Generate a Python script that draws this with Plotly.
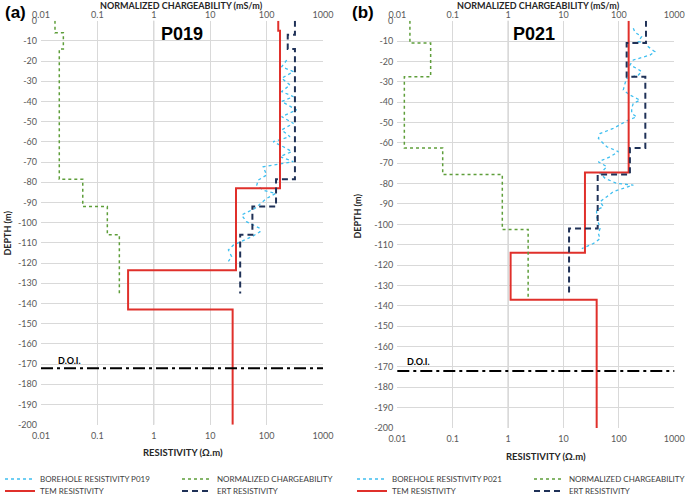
import plotly.graph_objects as go

# ---------------- data ----------------
res_ticks = [0.01, 0.1, 1, 10, 100, 1000]
res_tick_labels = ["0.01", "0.1", "1", "10", "100", "1000"]
depth_ticks = list(range(0, -201, -10))
depth_tick_labels = [str(d) for d in depth_ticks]
doi_depth = -172

# P019
p019_bh_depth = [-19.5, -22.8, -25.2, -28.5, -31.8, -35.1, -37.6, -40, -44.2, -47.5, -50.8, -54.1,
                 -57.4, -59.9, -62.4, -64.8, -67.3, -69.8, -72.3, -76.4, -78.9, -81.4, -83.9, -85.5,
                 -88, -90.5, -92.9, -96.2, -99.5, -102.8, -104.5, -106.9, -111, -113.5, -116.8, -119.2]
p019_bh_res = [227, 185, 298, 185, 260, 185, 298, 185, 341, 185, 298, 185,
               260, 131, 198, 279, 173, 298, 87, 100, 71, 67, 87, 145,
               100, 78, 62, 36, 44, 76, 76, 55, 26, 21, 24, 21]
p019_chg_bounds = [0, -6, -14, -78.5, -92, -106, -135]
p019_chg = [0.0177, 0.0249, 0.0211, 0.055, 0.15, 0.245]
p019_tem_bounds = [0, -5, -83, -123.5, -143, -200]
p019_tem = [161, 173, 28.7, 0.35, 25]
p019_ert_bounds = [0, -7, -14, -78.5, -92, -106, -135]
p019_ert = [318, 237, 318, 147, 56, 34]

# P021
p021_bh_depth = [-3.7, -5.7, -7.8, -10.3, -11.1, -12.8, -15.2, -16.9, -19.3, -21.8, -23.4, -25, -26.7,
                 -28.3, -30.8, -34, -36.5, -39, -40.6, -43, -45.5, -47.2, -48.8, -52.9, -55.4, -57.8,
                 -60.3, -61.9, -64.3, -66.8, -69.3, -71.7, -75, -77.4, -79.9, -80.7, -82.3, -84, -86.4,
                 -88.9, -91.3, -93, -96.2, -98.7, -102, -104.5, -107, -109.4, -111.9]
p021_bh_res = [182, 195, 257, 224, 317, 339, 446, 363, 182, 158, 209, 257, 224,
               138, 129, 120, 158, 240, 182, 170, 170, 209, 148, 79, 45.7, 42.6,
               52.5, 60.6, 98, 69.6, 42.6, 60.6, 45.7, 56.5, 91, 182, 120, 79, 60.6,
               45.7, 52.5, 39.6, 39.6, 42.6, 45.7, 42.6, 45.7, 34.6, 21.4]
p021_chg_bounds = [0, -11, -27.5, -62.5, -75.5, -102.5, -136]
p021_chg = [0.0169, 0.040, 0.0134, 0.066, 0.786, 2.3]
p021_tem_bounds = [0, -74.5, -114, -137, -200]
p021_tem = [150, 24.4, 1.11, 39.7]
p021_ert_bounds = [0, -11, -27.5, -62.5, -75.5, -102, -135]
p021_ert = [308, 138, 300, 158, 41.4, 12.6]


def steps(bounds, vals):
    xs, ys = [], []
    for i, v in enumerate(vals):
        xs += [v, v]
        ys += [bounds[i], bounds[i + 1]]
    return xs, ys


BH_COL = "#3fbff0"
CHG_COL = "#5e9e3a"
TEM_COL = "#e0302b"
ERT_COL = "#1f3157"
GRID = "#d9d9d9"
TICK_FONT = dict(family="Lato", size=9, color="#595959")

fig = go.Figure()

panels = [
    dict(name="P019", bh_d=p019_bh_depth, bh_r=p019_bh_res, cb=p019_chg_bounds, cv=p019_chg,
         tb=p019_tem_bounds, tv=p019_tem, eb=p019_ert_bounds, ev=p019_ert,
         xb="x", xt="x2", y="y", lg1="legend", lg2="legend2"),
    dict(name="P021", bh_d=p021_bh_depth, bh_r=p021_bh_res, cb=p021_chg_bounds, cv=p021_chg,
         tb=p021_tem_bounds, tv=p021_tem, eb=p021_ert_bounds, ev=p021_ert,
         xb="x3", xt="x4", y="y2", lg1="legend3", lg2="legend4"),
]

for p in panels:
    fig.add_trace(go.Scatter(x=p["bh_r"], y=p["bh_d"], mode="lines",
                             name="BOREHOLE RESISTIVITY " + p["name"],
                             line=dict(color=BH_COL, width=1.3, dash="dot"),
                             xaxis=p["xb"], yaxis=p["y"], legend=p["lg1"]))
    cx, cy = steps(p["cb"], p["cv"])
    fig.add_trace(go.Scatter(x=cx, y=cy, mode="lines", name="NORMALIZED CHARGEABILITY",
                             line=dict(color=CHG_COL, width=1.5, dash="dot"),
                             xaxis=p["xt"], yaxis=p["y"], legend=p["lg1"]))
    tx, ty = steps(p["tb"], p["tv"])
    fig.add_trace(go.Scatter(x=tx, y=ty, mode="lines", name="TEM RESISTIVITY",
                             line=dict(color=TEM_COL, width=2),
                             xaxis=p["xb"], yaxis=p["y"], legend=p["lg2"]))
    ex, ey = steps(p["eb"], p["ev"])
    fig.add_trace(go.Scatter(x=ex, y=ey, mode="lines", name="ERT RESISTIVITY",
                             line=dict(color=ERT_COL, width=2, dash="6px,4px"),
                             xaxis=p["xb"], yaxis=p["y"], legend=p["lg2"]))

W, H = 685, 495
dom_l = [41 / W, 323 / W]
dom_r = [397.3 / W, 674.3 / W]
ydom_l = [1 - 424.7 / H, 1 - 20.7 / H]
ydom_r = [1 - 428 / H, 1 - 20.7 / H]

xcommon = dict(type="log", range=[-2, 3], tickvals=res_ticks, ticktext=res_tick_labels,
               tickfont=TICK_FONT, ticks="", zeroline=False, automargin=False)
ycommon = dict(range=[-200, 0], tickvals=depth_ticks, ticktext=depth_tick_labels,
               tickfont=TICK_FONT, ticks="", zeroline=False, showgrid=True, gridcolor=GRID,
               gridwidth=1, showline=False, automargin=False, ticklabelstandoff=3)

fig.update_layout(
    width=W, height=H, margin=dict(l=0, r=0, t=0, b=0, autoexpand=False),
    paper_bgcolor="white", plot_bgcolor="white",
    xaxis=dict(domain=dom_l, anchor="y", showgrid=True, gridcolor=GRID, ticklabelstandoff=4, **xcommon),
    xaxis2=dict(domain=dom_l, anchor="y", overlaying="x", side="top", showgrid=False, **xcommon),
    xaxis3=dict(domain=dom_r, anchor="y2", showgrid=True, gridcolor=GRID, ticklabelstandoff=4, **xcommon),
    xaxis4=dict(domain=dom_r, anchor="y2", overlaying="x3", side="top", showgrid=False, **xcommon),
    yaxis=dict(domain=ydom_l, anchor="x", **ycommon),
    yaxis2=dict(domain=ydom_r, anchor="x3", **ycommon),
    showlegend=True,
)

leg_font = dict(family="Lato", size=8, color="#404040")
for key, lx, ly in [("legend", 0, 479), ("legend2", 0, 491),
                    ("legend3", 352, 479), ("legend4", 352, 491)]:
    fig.update_layout({key: dict(orientation="h", x=lx / W, xanchor="left", y=1 - ly / H, yanchor="middle",
                                 font=leg_font, itemwidth=30, entrywidth=132, entrywidthmode="pixels",
                                 bgcolor="rgba(0,0,0,0)", tracegroupgap=0)})

# axis line at 1 and D.O.I. line
for xr, yr in [("x", "y"), ("x3", "y2")]:
    fig.add_shape(type="line", xref=xr, yref=yr + " domain", x0=1, x1=1, y0=0, y1=1,
                  line=dict(color="#bfbfbf", width=1), layer="below")
    fig.add_shape(type="line", xref=xr + " domain", yref=yr, x0=0, x1=1, y0=doi_depth, y1=doi_depth,
                  line=dict(color="black", width=2, dash="12px,4px,3px,4px"))

ann = []
def A(text, x, y, size, bold=True, family="Lato", color="#262626", angle=0, xanchor="center"):
    ann.append(dict(text=("<b>%s</b>" % text) if bold else text, x=x / W, y=1 - y / H,
                    xref="paper", yref="paper", showarrow=False, textangle=angle,
                    font=dict(family=family, size=size, color=color), xanchor=xanchor, yanchor="middle"))

A("(a)", 16, 12, 17, family="Liberation Sans", color="black")
A("(b)", 363, 12, 17, family="Liberation Sans", color="black")
A("P019", 181.5, 34, 18, family="Liberation Sans", color="black")
A("P021", 534, 34, 18, family="Liberation Sans", color="black")
A("NORMALIZED CHARGEABILITY (mS/m)", 181, 5.5, 9)
A("NORMALIZED CHARGEABILITY (mS/m)", 538.5, 5.5, 9)
A("RESISTIVITY (Ω.m)", 182.5, 452.7, 9.5)
A("RESISTIVITY (Ω.m)", 546, 456, 9.5)
A("DEPTH (m)", 7.5, 233, 9, angle=-90)
A("DEPTH (m)", 357.5, 216, 9, angle=-90)
A("D.O.I.", 69.7, 360.7, 9, color="black")
A("D.O.I.", 418, 361.7, 9, color="black")
fig.update_layout(annotations=ann)

fig.write_html("out.html", config={"displayModeBar": False},
               post_script="document.body.style.margin='0';")
